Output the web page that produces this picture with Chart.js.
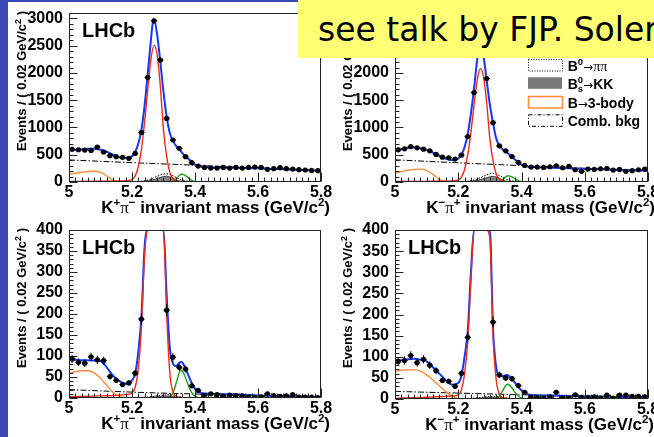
<!DOCTYPE html>
<html>
<head>
<meta charset="utf-8">
<title>B to h h invariant mass fits</title>
<script src="https://cdn.jsdelivr.net/npm/chart.js@4.4.1/dist/chart.umd.min.js"></script>
<style>
  html, body { margin: 0; padding: 0; background: #fff; }
  #slide { position: relative; width: 654px; height: 437px; overflow: hidden; background: #fff; }
  .panel { position: absolute; }
  #sidebar { position: absolute; left: 0; top: 0; width: 8px; height: 437px; background: #3a48b6; }
  #topline { position: absolute; left: 0; top: 0; width: 654px; height: 2px; background: #3a48b6; }
  #note { position: absolute; left: 298px; top: 0; width: 356px; height: 58px; box-sizing: border-box;
          padding: 2px 0 0 20px; background: #ffff73; color: #000; white-space: nowrap;
          font: 33px "DejaVu Sans", sans-serif; line-height: 56px; }
</style>
</head>
<body>
<div id="slide">
  <div class="panel" id="box-ul"><canvas id="ul"></canvas></div>
  <div class="panel" id="box-ur"><canvas id="ur"></canvas></div>
  <div class="panel" id="box-ll"><canvas id="ll"></canvas></div>
  <div class="panel" id="box-lr"><canvas id="lr"></canvas></div>
  <div id="sidebar"></div>
  <div id="topline"></div>
  <div id="note">see talk by FJP. Soler</div>
</div>
<script>
// histogram bins (0.02 GeV/c^2 wide), axis ticks
const massBins = [5.01, 5.03, 5.05, 5.07, 5.09, 5.11, 5.13, 5.15, 5.17, 5.19,
                  5.21, 5.23, 5.25, 5.27, 5.29, 5.31, 5.33, 5.35, 5.37, 5.39,
                  5.41, 5.43, 5.45, 5.47, 5.49, 5.51, 5.53, 5.55, 5.57, 5.59,
                  5.61, 5.63, 5.65, 5.67, 5.69, 5.71, 5.73, 5.75, 5.77, 5.79];
const binHalfWidth = 0.01;
const massTicks = [5, 5.2, 5.4, 5.6, 5.8];
const countTicksTop = [0, 500, 1000, 1500, 2000, 2500, 3000];
const countTicksBottom = [0, 50, 100, 150, 200, 250, 300, 350, 400];

// events per bin
const ulCounts = [599, 592, 586, 580, 641, 550, 482, 464, 452, 434,
                  525, 910, 1918, 2956, 2236, 1167, 770, 617, 464, 354,
                  293, 268, 256, 256, 268, 256, 268, 256, 268, 274,
                  268, 232, 244, 262, 244, 238, 226, 220, 213, 207];
const urCounts = [590, 608, 650, 626, 602, 571, 505, 456, 444, 420,
                  492, 833, 1641, 2480, 1897, 1088, 663, 571, 468, 359,
                  304, 274, 274, 267, 280, 298, 261, 286, 225, 195,
                  237, 231, 243, 249, 219, 231, 195, 207, 225, 237];
const llCounts = [93, 85, 83, 98, 91, 89, 51, 42, 32, 36,
                  59, 188, 1000, 1560, 1150, 209, 97, 73, 69, 29,
                  18, 6, 10, 8, 4, 7, 6, 5, 2, 1,
                  3, 10, 6, 4, 5, 8, 2, 2, 2, 1];
const lrCounts = [89, 91, 103, 86, 94, 80, 67, 44, 42, 30,
                  61, 146, 900, 1450, 1080, 182, 57, 50, 48, 32,
                  16, 4, 3, 2, 5, 16, 3, 2, 10, 4,
                  4, 5, 2, 9, 2, 9, 9, 6, 6, 5];

// total fit
const totalMassTop = [5.00, 5.02, 5.04, 5.06, 5.08, 5.10, 5.12, 5.14, 5.16, 5.18, 5.20,
                      5.21, 5.22, 5.23, 5.24, 5.25, 5.26, 5.265, 5.27, 5.28, 5.29, 5.30,
                      5.31, 5.32, 5.33, 5.34, 5.35, 5.36, 5.37, 5.38, 5.39, 5.40,
                      5.42, 5.45, 5.50, 5.55, 5.60, 5.65, 5.70, 5.75, 5.80];
const ulTotal = [585, 592, 600, 608, 610, 590, 555, 500, 455, 438, 470,
                 550, 700, 960, 1400, 1990, 2600, 2880, 2980, 2700, 2200, 1650,
                 1200, 900, 760, 660, 600, 530, 465, 420, 370, 320,
                 285, 272, 265, 258, 250, 240, 230, 218, 205];
const urTotal = [578, 600, 625, 632, 620, 590, 540, 480, 430, 400, 430,
                 500, 640, 880, 1250, 1720, 2250, 2430, 2480, 2300, 1860, 1420,
                 1080, 800, 660, 600, 560, 510, 460, 410, 360, 320,
                 285, 270, 262, 252, 243, 235, 225, 215, 206];
const totalMassBottom = [5.00, 5.02, 5.04, 5.06, 5.08, 5.10, 5.12, 5.13, 5.14, 5.16, 5.18, 5.20,
                         5.21, 5.22, 5.23, 5.24, 5.25, 5.27, 5.29, 5.30, 5.31, 5.32, 5.33, 5.34,
                         5.35, 5.355, 5.36, 5.37, 5.38, 5.39, 5.40, 5.42, 5.45, 5.50, 5.55, 5.60,
                         5.65, 5.70, 5.75, 5.80];
const llTotal = [91, 91, 90, 90, 89, 88, 73, 62, 53, 40, 34, 42,
                 58, 110, 195, 360, 700, 1650, 1200, 460, 245, 120, 82, 76,
                 84, 86, 84, 70, 52, 35, 22, 12, 10, 9, 8, 6,
                 5, 4, 3, 2];
const lrTotal = [90, 92, 94, 95, 93, 89, 75, 67, 60, 45, 34, 38,
                 55, 100, 160, 300, 560, 1500, 1100, 420, 165, 75, 55, 54,
                 56, 57, 55, 47, 38, 28, 20, 11, 9, 8, 7, 6,
                 6, 5, 5, 4];

// B -> K pi signal
const signalMass = [5.00, 5.10, 5.18, 5.20, 5.21, 5.22, 5.23, 5.24, 5.25, 5.26, 5.27,
                    5.28, 5.29, 5.30, 5.31, 5.32, 5.33, 5.34, 5.36, 5.40, 5.80];
const ulSignal = [10, 14, 25, 45, 110, 280, 600, 1100, 1700, 2250, 2510,
                  2330, 1750, 950, 470, 180, 60, 20, 4, 1, 0];
const urSignal = [8, 12, 20, 37, 90, 230, 500, 910, 1410, 1870, 2080,
                  1930, 1450, 790, 390, 150, 50, 17, 3, 1, 0];
const llSignal = [3, 5, 8, 12, 25, 70, 170, 340, 650, 1150, 1550,
                  1450, 1150, 420, 200, 60, 15, 4, 1, 0, 0];
const lrSignal = [2, 4, 7, 10, 22, 60, 135, 280, 560, 1050, 1450,
                  1350, 1050, 380, 150, 45, 12, 3, 1, 0, 0];

// B -> 3-body
const threeBodyMass = [5.00, 5.02, 5.04, 5.06, 5.08, 5.10, 5.12, 5.14, 5.16, 5.18, 5.20, 5.22];
const ul3Body = [145, 160, 178, 192, 198, 180, 110, 35, 5, 0, 0, 0];
const ur3Body = [165, 190, 215, 232, 237, 215, 140, 50, 8, 0, 0, 0];
const ll3Body = [58, 63, 65, 65, 60, 47, 30, 13, 4, 1, 0, 0];
const lr3Body = [65, 68, 69, 69, 66, 57, 45, 31, 18, 7, 1.5, 0];

// combinatorial background
const combMass = [5.0, 5.2, 5.4, 5.6, 5.8];
const ulComb = [405, 355, 308, 255, 205];
const urComb = [407, 352, 300, 250, 200];
const llComb = [20, 14, 9.5, 6, 3.5];
const lrComb = [18, 14, 10, 7, 4.5];

// Bs -> KK
const kkMass = [5.20, 5.22, 5.24, 5.26, 5.28, 5.30, 5.31, 5.32, 5.33, 5.34, 5.35, 5.37, 5.40];
const ulKK = [0, 3, 12, 30, 65, 100, 105, 95, 70, 40, 18, 4, 0];
const urKK = [0, 3, 12, 30, 62, 97, 103, 93, 68, 38, 17, 4, 0];
const llKK = [0, 0, 0.5, 1.5, 3, 4.5, 5, 4.5, 3.5, 2, 1, 0.3, 0];
const lrKK = [0, 0, 0.5, 1.3, 2.6, 4, 4.5, 4, 3, 1.8, 0.9, 0.3, 0];

// B0 -> pi pi
const pipiMass = [5.18, 5.20, 5.22, 5.24, 5.26, 5.28, 5.30, 5.31, 5.32, 5.33, 5.34, 5.35, 5.36, 5.38, 5.40, 5.43];
const ulPiPi = [0, 3, 10, 25, 55, 105, 145, 150, 140, 115, 85, 55, 35, 12, 4, 0];
const urPiPi = [0, 3, 10, 25, 55, 105, 150, 158, 145, 118, 88, 56, 35, 12, 4, 0];
const llPiPi = [0, 0, 0.5, 1.5, 3, 5, 7, 7.5, 7, 6, 4.5, 3, 2, 0.8, 0.3, 0];
const lrPiPi = [0, 0, 0.5, 1.3, 2.8, 4.5, 6, 6.5, 6, 5, 4, 2.8, 1.8, 0.7, 0.3, 0];

// Bs -> pi K
const greenMass = [5.30, 5.31, 5.32, 5.33, 5.34, 5.35, 5.355, 5.36, 5.37, 5.38, 5.39, 5.40, 5.41, 5.42, 5.43];
const ulGreen = [0, 0, 3, 15, 60, 118, 140, 143, 118, 70, 30, 8, 2, 0, 0];
const urGreen = [0, 0, 3, 12, 50, 95, 110, 113, 95, 58, 25, 7, 1, 0, 0];
const llGreen = [0, 0.5, 3, 12, 35, 60, 66, 64, 48, 28, 12, 4, 1, 0, 0];
const lrGreen = [0, 0.3, 2, 7, 19, 32, 35, 34, 26, 15, 7, 2, 0.5, 0, 0];

const SANS = '"Liberation Sans", Arial, Helvetica, sans-serif';
const SERIF = '"Liberation Serif", "Times New Roman", serif';
const ARROW = '"DejaVu Sans", sans-serif';
const MINUS = '\u2212';

const panels = [
  { id: 'ul', box: [8, 0, 330, 218], pad: [13, 17], yWidth: 61, xHeight: 36, titleShift: 9,
    counts: ulCounts, yTicks: countTicksTop, yMax: 3100, yMinor: 100, yMajor: 500, charges: ['+', MINUS],
    lhcb: true, legend: false,
    total: [totalMassTop, ulTotal], signal: [signalMass, ulSignal], threeBody: [threeBodyMass, ul3Body],
    comb: [combMass, ulComb], kk: [kkMass, ulKK], pipi: [pipiMass, ulPiPi], green: [greenMass, ulGreen] },
  { id: 'ur', box: [338, 0, 316, 218], pad: [13, 6], yWidth: 57, xHeight: 36, titleShift: 7,
    counts: urCounts, yTicks: countTicksTop, yMax: 3100, yMinor: 100, yMajor: 500, charges: [MINUS, '+'],
    lhcb: false, legend: true,
    total: [totalMassTop, urTotal], signal: [signalMass, urSignal], threeBody: [threeBodyMass, ur3Body],
    comb: [combMass, urComb], kk: [kkMass, urKK], pipi: [pipiMass, urPiPi], green: [greenMass, urGreen] },
  { id: 'll', box: [8, 218, 330, 219], pad: [12, 17], yWidth: 61, xHeight: 39, titleShift: 9,
    counts: llCounts, yTicks: countTicksBottom, yMax: 400, yMinor: 10, yMajor: 50, charges: ['+', MINUS],
    lhcb: true, legend: false,
    total: [totalMassBottom, llTotal], signal: [signalMass, llSignal], threeBody: [threeBodyMass, ll3Body],
    comb: [combMass, llComb], kk: [kkMass, llKK], pipi: [pipiMass, llPiPi], green: [greenMass, llGreen] },
  { id: 'lr', box: [338, 218, 316, 219], pad: [12, 6], yWidth: 57, xHeight: 38, titleShift: 6,
    counts: lrCounts, yTicks: countTicksBottom, yMax: 400, yMinor: 10, yMajor: 50, charges: [MINUS, '+'],
    lhcb: true, legend: false,
    total: [totalMassBottom, lrTotal], signal: [signalMass, lrSignal], threeBody: [threeBodyMass, lr3Body],
    comb: [combMass, lrComb], kk: [kkMass, lrKK], pipi: [pipiMass, lrPiPi], green: [greenMass, lrGreen] }
];

// draws a run of text pieces (sizes, fonts, raised/lowered) one after another
function richText(ctx, parts, x, y, align) {
  let w = 0;
  for (const p of parts) {
    ctx.font = p.font;
    p.w = ctx.measureText(p.text).width;
    w += p.adv === 0 ? 0 : p.w;
  }
  let cx = align === 'right' ? x - w : x;
  ctx.textAlign = 'left';
  ctx.textBaseline = 'alphabetic';
  for (const p of parts) {
    ctx.font = p.font;
    ctx.fillText(p.text, cx, y - (p.rise || 0));
    cx += p.adv === 0 ? 0 : p.w;
  }
}

const bold = size => `bold ${size}px ${SANS}`;

function xTitle(charges) {
  return [
    { text: 'K', font: bold(17) },
    { text: charges[0], font: bold(11.5), rise: 7.5 },
    { text: '\u03c0', font: `17px ${SERIF}` },
    { text: charges[1], font: bold(11.5), rise: 7.5 },
    { text: ' invariant mass (GeV/c', font: bold(17) },
    { text: '2', font: bold(11.5), rise: 7.5 },
    { text: ')', font: bold(17) }
  ];
}

const yTitle = [
  { text: 'Events / ( 0.02 GeV/c', font: bold(13) },
  { text: '2', font: bold(9), rise: 5 },
  { text: ' )', font: bold(13) }
];

const legendRows = [
  { style: 'dotted', parts: [
      { text: 'B', font: bold(14) }, { text: '0', font: bold(9.5), rise: 6 },
      { text: '\u2192', font: `12px ${ARROW}` }, { text: '\u03c0\u03c0', font: `14px ${SERIF}` }] },
  { style: 'filled', parts: [
      { text: 'B', font: bold(14) }, { text: '0', font: bold(9.5), rise: 6, adv: 0 },
      { text: 's', font: bold(9.5), rise: -3 },
      { text: '\u2192', font: `12px ${ARROW}` }, { text: 'KK', font: bold(14) }] },
  { style: 'orange', parts: [
      { text: 'B', font: bold(14) }, { text: '\u2192', font: `12px ${ARROW}` },
      { text: '3-body', font: bold(14) }] },
  { style: 'dashdot', parts: [{ text: 'Comb. bkg', font: bold(14) }] }
];

const rootPanel = {
  id: 'rootPanel',
  afterDatasetsDraw(chart, args, opt) {
    const { ctx, chartArea: a, scales: { x, y } } = chart;
    // error bars: bin width horizontally, Poisson error vertically
    ctx.save();
    ctx.beginPath();
    ctx.rect(a.left, a.top, a.right - a.left, a.bottom - a.top);
    ctx.clip();
    ctx.strokeStyle = '#000';
    ctx.lineWidth = 1;
    ctx.beginPath();
    for (const p of chart.data.datasets[0].data) {
      const px = x.getPixelForValue(p.x), py = y.getPixelForValue(p.y), e = Math.sqrt(p.y);
      ctx.moveTo(x.getPixelForValue(p.x - binHalfWidth), py);
      ctx.lineTo(x.getPixelForValue(p.x + binHalfWidth), py);
      ctx.moveTo(px, y.getPixelForValue(p.y - e));
      ctx.lineTo(px, y.getPixelForValue(p.y + e));
    }
    ctx.stroke();
    ctx.restore();

    // frame with inward ticks
    ctx.save();
    ctx.strokeStyle = '#222';
    ctx.lineWidth = 1;
    const L = Math.round(a.left) + 0.5, R = Math.round(a.right) - 0.5;
    const T = Math.round(a.top) + 0.5, B = Math.round(a.bottom) - 0.5;
    ctx.strokeRect(L, T, R - L, B - T);
    ctx.beginPath();
    for (let v = 0; v <= y.max; v += opt.yMinor) {
      const py = Math.round(y.getPixelForValue(v)) + 0.5;
      ctx.moveTo(L, py);
      ctx.lineTo(L + (v % opt.yMajor === 0 ? 8 : 4), py);
    }
    const nx = Math.round((x.max - x.min) / 0.02);
    for (let k = 0; k <= nx; k++) {
      const px = Math.round(x.getPixelForValue(x.min + k * 0.02)) + 0.5;
      ctx.moveTo(px, B);
      ctx.lineTo(px, B - (k % 10 === 0 ? 9 : 4));
    }
    ctx.stroke();
    ctx.restore();
  },
  afterDraw(chart, args, opt) {
    const { ctx, chartArea: a } = chart;
    ctx.save();
    ctx.fillStyle = '#000';
    if (opt.lhcb) {
      ctx.font = bold(20);
      ctx.textAlign = 'left';
      ctx.fillText('LHCb', a.left + 13, a.top + 23.5);
    }
    richText(ctx, xTitle(opt.charges), a.right + opt.titleShift, a.bottom + 31, 'right');
    ctx.save();
    ctx.translate(a.left - 43.5, a.top - 2);
    ctx.rotate(-Math.PI / 2);
    richText(ctx, yTitle, 0, 0, 'right');
    ctx.restore();

    if (opt.legend) {
      const bx = a.left + 133, bw = 34, bh = 11.5, tx = a.left + 172.7;
      const rowTops = [46, 64.3, 83, 101.3];
      legendRows.forEach((row, i) => {
        const top = a.top + rowTops[i];
        ctx.save();
        ctx.lineWidth = 1;
        if (row.style === 'filled') {
          ctx.fillStyle = '#7a7a7a';
          ctx.fillRect(bx, top, bw, bh);
        } else {
          ctx.strokeStyle = row.style === 'orange' ? '#ff8a3a' : '#000';
          ctx.lineWidth = row.style === 'orange' ? 1.5 : 1;
          if (row.style === 'dotted') ctx.setLineDash([1, 1.5]);
          if (row.style === 'dashdot') ctx.setLineDash([4, 2, 1, 2]);
          ctx.strokeRect(bx + 0.5, top + 0.5, bw, bh);
        }
        ctx.restore();
        richText(ctx, row.parts, tx, top + 11.5, 'left');
      });
    }
    ctx.restore();
  }
};

function curve(pair, yMax) {
  const [xs, ys] = pair;
  return xs.map((m, i) => ({ x: m, y: Math.min(ys[i], yMax) }));
}

function line(pair, yMax, style) {
  return Object.assign({
    data: curve(pair, yMax), showLine: true, pointRadius: 0, borderWidth: 1.4,
    cubicInterpolationMode: 'monotone', fill: false
  }, style);
}

for (const p of panels) {
  const [left, top, width, height] = p.box;
  const holder = document.getElementById('box-' + p.id);
  Object.assign(holder.style, { left: left + 'px', top: top + 'px', width: width + 'px', height: height + 'px' });

  new Chart(document.getElementById(p.id), {
    type: 'scatter',
    data: {
      datasets: [
        { label: 'Data', data: massBins.map((m, i) => ({ x: m, y: p.counts[i] })),
          pointRadius: 2.6, pointBackgroundColor: '#000', pointBorderWidth: 0, showLine: false, order: 0 },
        line(p.signal, p.yMax, { label: 'B\u2192K\u03c0', borderColor: '#ee2b1b', order: 1 }),
        line(p.total, p.yMax, { label: 'Total', borderColor: '#1538f0', borderWidth: 2, order: 2 }),
        line(p.green, p.yMax, { label: 'Bs\u2192\u03c0K', borderColor: '#1f9e1f', order: 3 }),
        line(p.threeBody, p.yMax, { label: 'B\u21923-body', borderColor: '#ff8a3a', order: 4 }),
        line(p.comb, p.yMax, { label: 'Comb. bkg', borderColor: '#000', borderWidth: 1,
                               borderDash: [6, 2, 1.5, 2], order: 5 }),
        line(p.pipi, p.yMax, { label: 'B0\u2192\u03c0\u03c0', borderColor: '#000', borderWidth: 1,
                               borderDash: [1.5, 1.5], order: 6 }),
        line(p.kk, p.yMax, { label: 'Bs\u2192KK', borderColor: '#4a4a4a', borderWidth: 1,
                             backgroundColor: '#808080', fill: 'origin', order: 7 })
      ]
    },
    options: {
      responsive: true,
      maintainAspectRatio: false,
      animation: false,
      events: [],
      layout: { autoPadding: false, padding: { top: p.pad[0], right: p.pad[1], left: 0, bottom: 0 } },
      plugins: {
        legend: { display: false },
        tooltip: { enabled: false },
        rootPanel: { yMinor: p.yMinor, yMajor: p.yMajor, charges: p.charges, lhcb: p.lhcb,
                     legend: p.legend, titleShift: p.titleShift }
      },
      scales: {
        x: {
          type: 'linear', min: 5, max: 5.8,
          afterBuildTicks: s => { s.ticks = massTicks.map(v => ({ value: v })); },
          afterFit: s => { s.height = p.xHeight; s.paddingLeft = 0; s.paddingRight = 0; },
          grid: { display: true, drawOnChartArea: false, drawTicks: false },
          border: { display: false },
          ticks: { padding: 1, maxRotation: 0, autoSkip: false, color: '#000',
                   font: { family: SANS, size: 16, weight: 'bold' }, callback: v => String(v) }
        },
        y: {
          type: 'linear', min: 0, max: p.yMax,
          afterBuildTicks: s => { s.ticks = p.yTicks.map(v => ({ value: v })); },
          afterFit: s => { s.width = p.yWidth; s.paddingTop = 0; s.paddingBottom = 0; },
          grid: { display: true, drawOnChartArea: false, drawTicks: false },
          border: { display: false },
          ticks: { padding: 6, autoSkip: false, color: '#000',
                   font: { family: SANS, size: 16, weight: 'bold' }, callback: v => String(v) }
        }
      }
    },
    plugins: [rootPanel]
  });
}
</script>
</body>
</html>
